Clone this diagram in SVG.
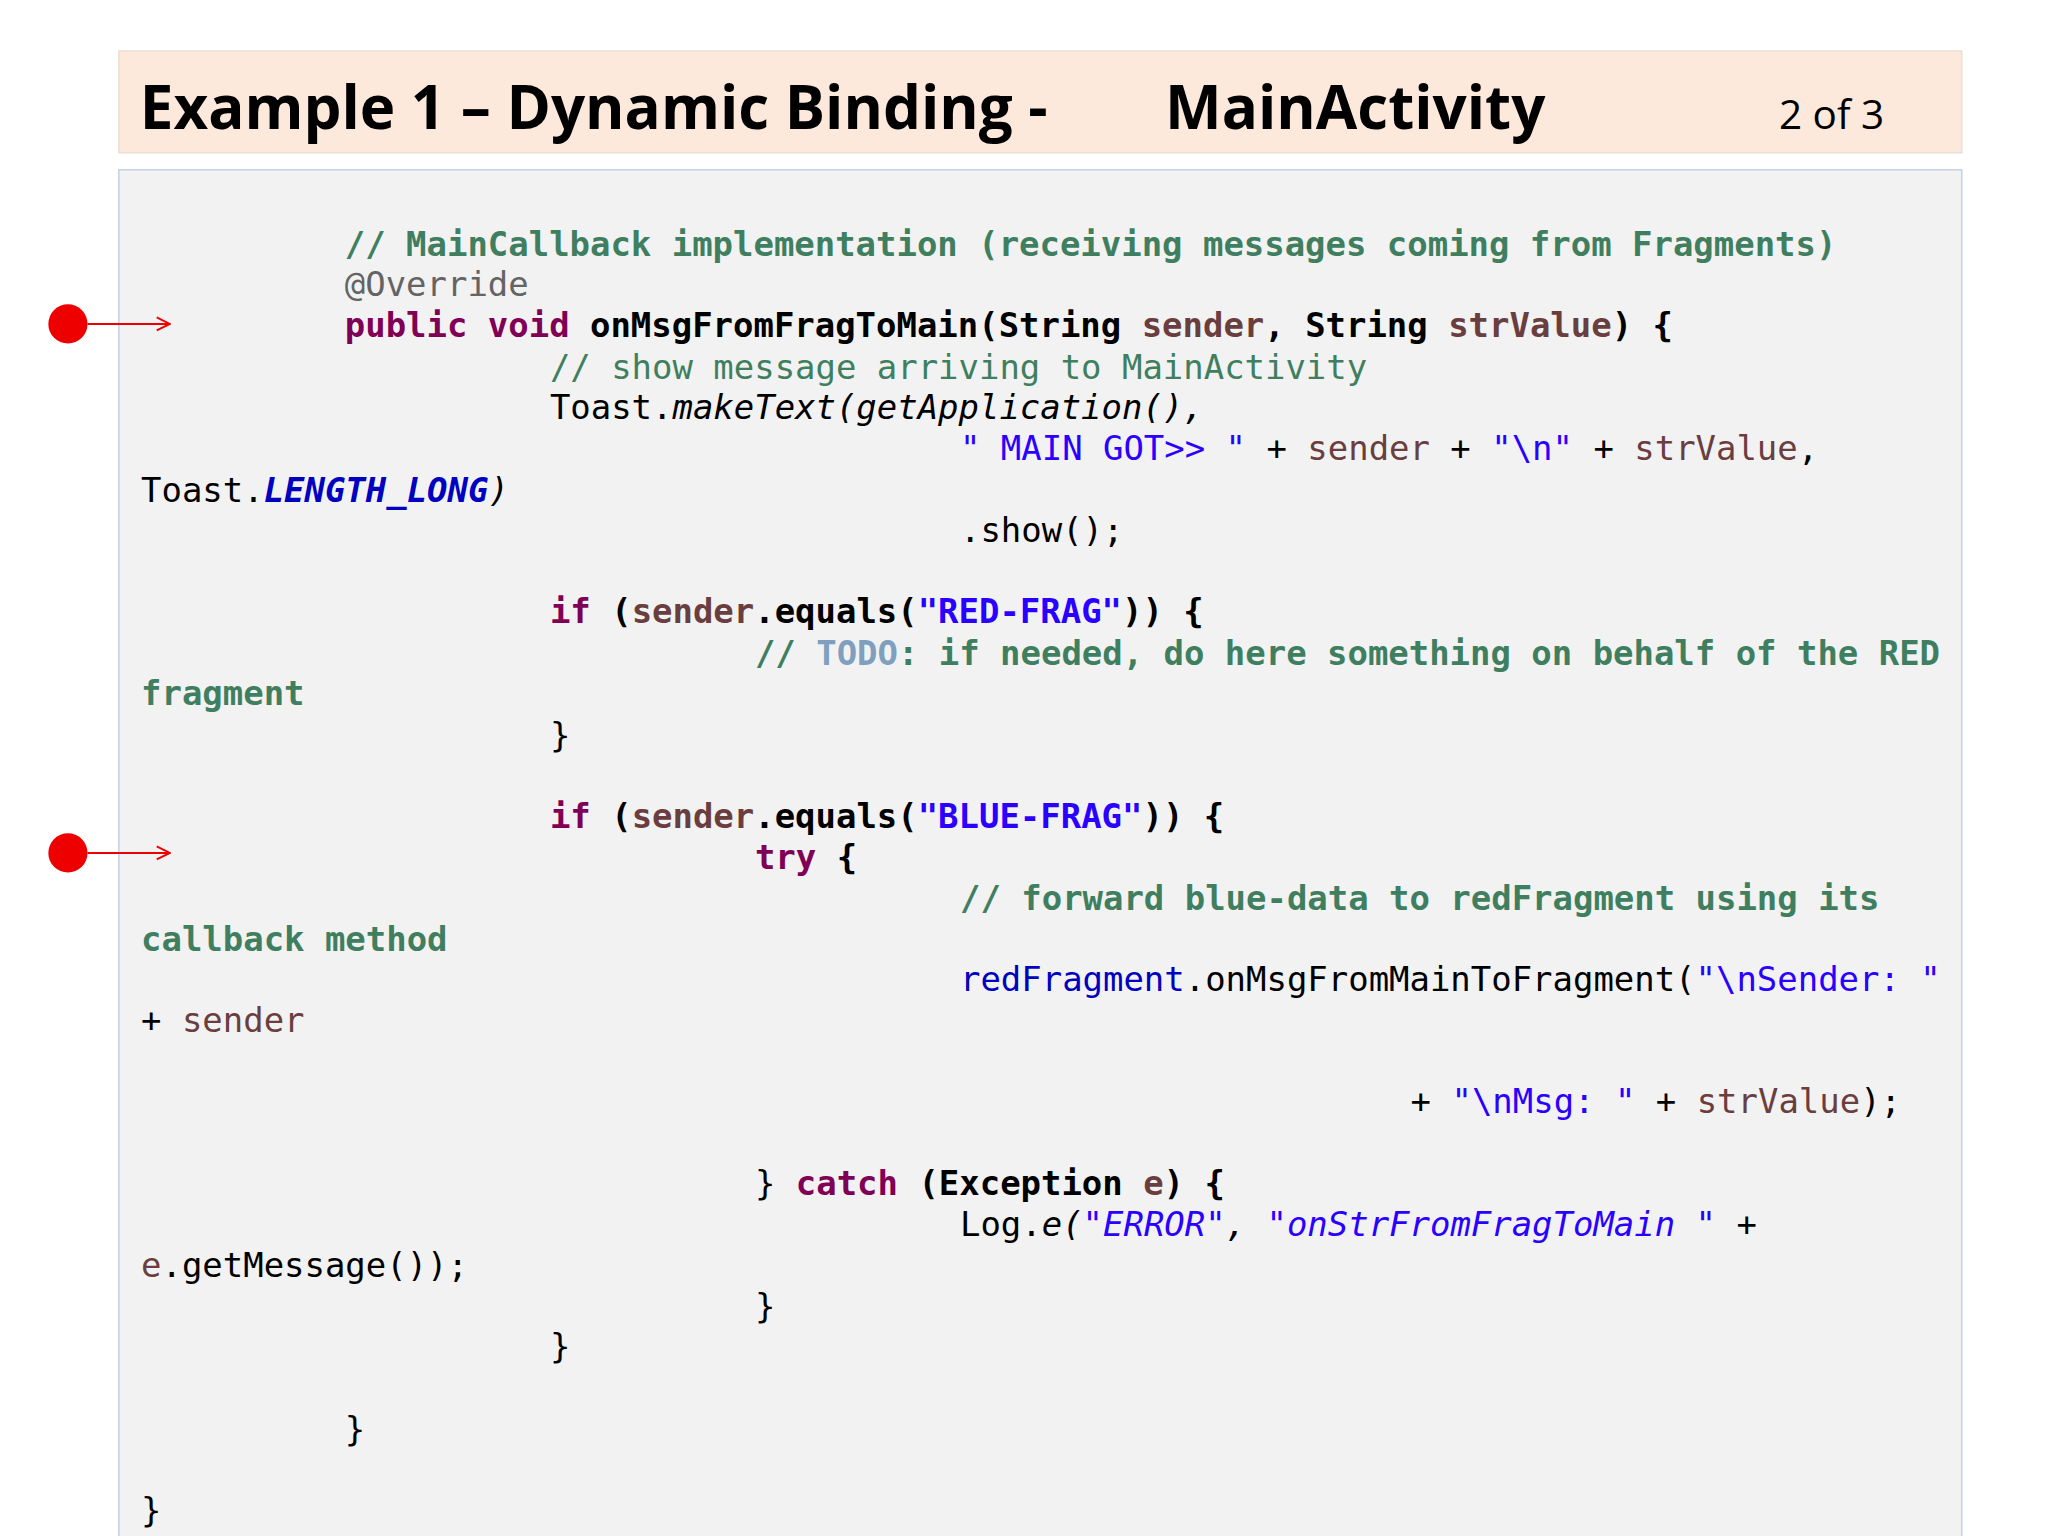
<svg xmlns="http://www.w3.org/2000/svg" width="2048" height="1536" viewBox="0 0 2048 1536">
<style>
.c{font-family:"DejaVu Sans Mono",monospace;font-size:26px;fill:#000;white-space:pre}
.b{font-weight:bold}.cm{fill:#3f7f5f}.kw{fill:#7f0055;font-weight:bold}.st{fill:#2a00ff}.v{fill:#6a3e3e}.an{fill:#646464}.fd{fill:#0000c0}.i{font-style:italic}.td{fill:#7f9fbf}
.t{font-family:"Open Sans","Noto Sans",sans-serif;fill:#000}
</style>
<defs><marker id="ah" markerWidth="12" markerHeight="12" refX="11" refY="6" orient="auto" markerUnits="userSpaceOnUse"><path d="M1,1 L11,6 L1,11" fill="none" stroke="#e00" stroke-width="1.5"/></marker></defs>
<rect width="2048" height="1536" fill="#fff"/>
<g transform="scale(1.30612)">
<g id="header">
<rect x="91" y="39" width="1411" height="78" fill="#fce9db" stroke="#e8dcd2"/>
<text class="t" x="107" y="99" font-size="46" font-weight="bold">Example 1 – Dynamic Binding -</text>
<text class="t" x="892" y="99" font-size="46" font-weight="bold">MainActivity</text>
<text class="t" x="1362" y="99" font-size="31">2  of 3</text>
</g>
<g id="codebox">
<rect x="91" y="130" width="1411" height="1060" fill="#f2f2f2" stroke="#b8cce4"/>
<text class="c b cm" x="264" y="196">// MainCallback implementation (receiving messages coming from Fragments)</text>
<text class="c an" x="264" y="227">@Override</text>
<text class="c" x="264" y="258"><tspan class="kw">public void </tspan><tspan class="b">onMsgFromFragToMain(String </tspan><tspan class="v b">sender</tspan><tspan class="b">, String </tspan><tspan class="v b">strValue</tspan><tspan class="b">) {</tspan></text>
<text class="c cm" x="421" y="290">// show message arriving to MainActivity</text>
<text class="c" x="421" y="321">Toast.<tspan class="i">makeText(getApplication(),</tspan></text>
<text class="c" x="735" y="352"><tspan class="st">" MAIN GOT&gt;&gt; "</tspan> + <tspan class="v">sender</tspan> + <tspan class="st">"\n"</tspan> + <tspan class="v">strValue</tspan>,</text>
<text class="c" x="108" y="384">Toast.<tspan class="fd i b">LENGTH_LONG</tspan><tspan class="i">)</tspan></text>
<text class="c" x="735" y="415">.show();</text>
<text class="c b" x="421" y="477"><tspan class="kw">if</tspan> (<tspan class="v">sender</tspan>.equals(<tspan class="st">"RED-FRAG"</tspan>)) {</text>
<text class="c b cm" x="578" y="509">// <tspan class="td">TODO</tspan>: if needed, do here something on behalf of the RED</text>
<text class="c b cm" x="108" y="540">fragment</text>
<text class="c" x="421" y="572">}</text>
<text class="c b" x="421" y="634"><tspan class="kw">if</tspan> (<tspan class="v">sender</tspan>.equals(<tspan class="st">"BLUE-FRAG"</tspan>)) {</text>
<text class="c b" x="578" y="665"><tspan class="kw">try</tspan> {</text>
<text class="c b cm" x="735" y="697">// forward blue-data to redFragment using its</text>
<text class="c b cm" x="108" y="728">callback method</text>
<text class="c" x="735" y="759"><tspan class="fd">redFragment</tspan>.onMsgFromMainToFragment(<tspan class="st">"\nSender: "</tspan></text>
<text class="c" x="108" y="790">+ <tspan class="v">sender</tspan></text>
<text class="c" x="1080" y="852">+ <tspan class="st">"\nMsg: "</tspan> + <tspan class="v">strValue</tspan>);</text>
<text class="c" x="578" y="915">} <tspan class="kw">catch</tspan><tspan class="b"> (Exception </tspan><tspan class="v b">e</tspan><tspan class="b">) {</tspan></text>
<text class="c" x="735" y="946">Log.<tspan class="i">e(</tspan><tspan class="st i">"ERROR"</tspan><tspan class="i">, </tspan><tspan class="st i">"onStrFromFragToMain "</tspan> +</text>
<text class="c" x="108" y="978"><tspan class="v">e</tspan>.getMessage());</text>
<text class="c" x="578" y="1009">}</text>
<text class="c" x="421" y="1040">}</text>
<text class="c" x="264" y="1103">}</text>
<text class="c" x="108" y="1165">}</text>
</g>
<g id="marker1"><circle cx="52" cy="248" r="15" fill="#e00"/></g>
<g id="marker2"><circle cx="52" cy="653" r="15" fill="#e00"/></g>
<g id="connectors" stroke="#e00" stroke-width="1.5" fill="none">
<line x1="67" y1="248" x2="130" y2="248" marker-end="url(#ah)"/>
<line x1="67" y1="653" x2="130" y2="653" marker-end="url(#ah)"/>
</g>
</g>
</svg>
